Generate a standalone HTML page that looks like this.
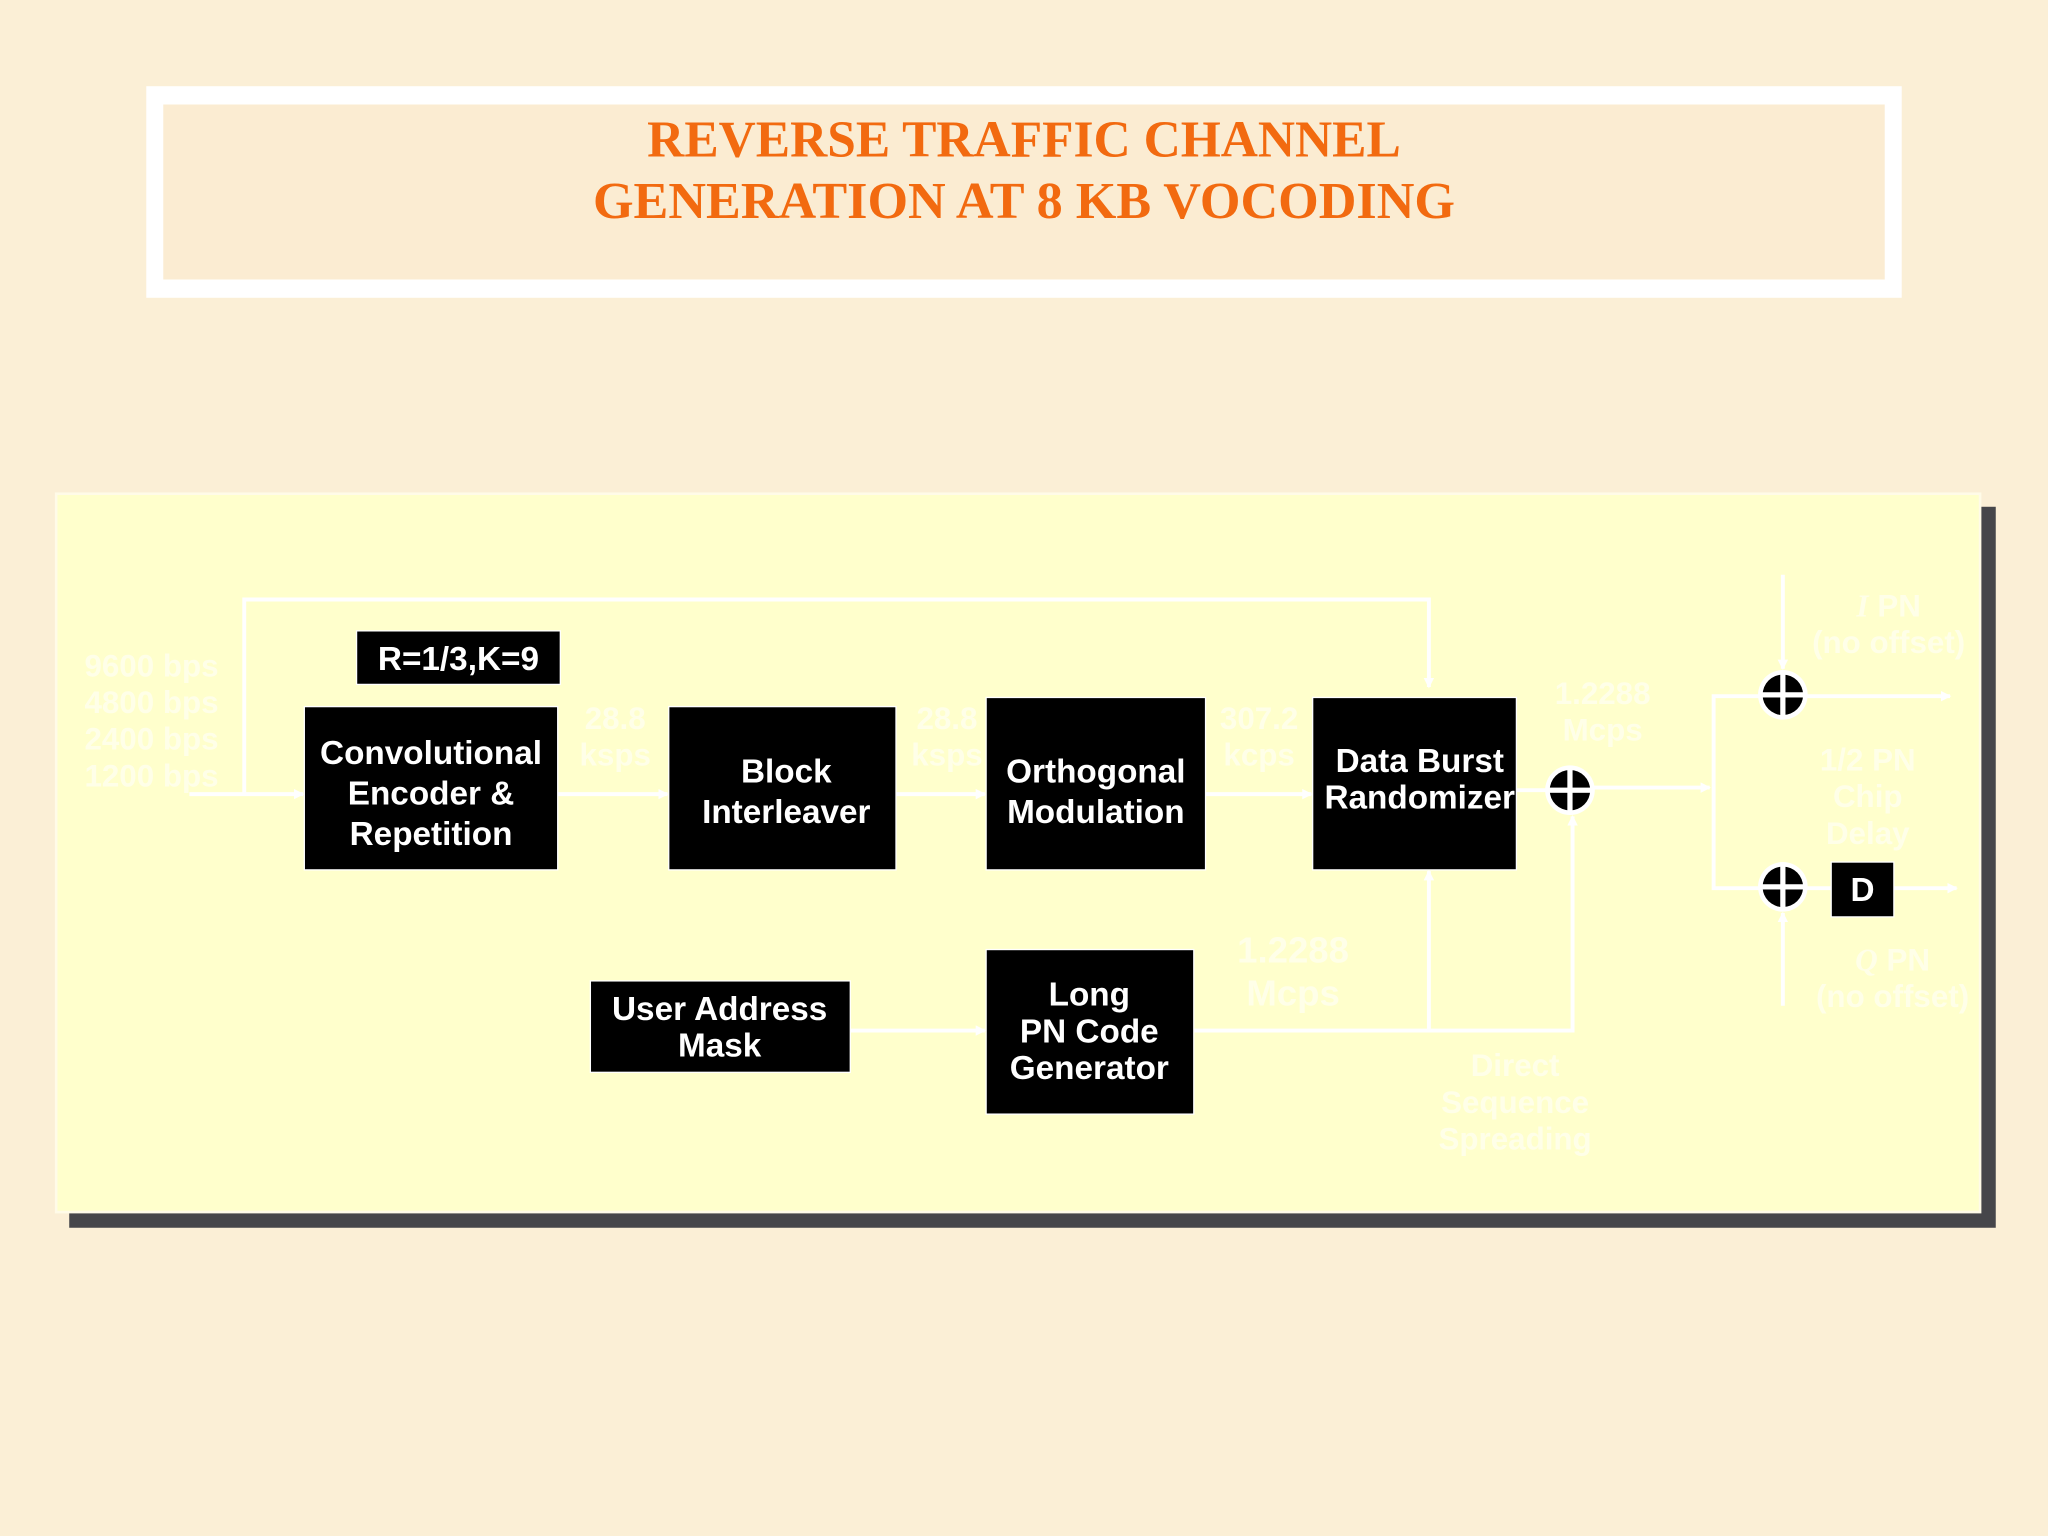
<!DOCTYPE html>
<html><head><meta charset="utf-8"><style>
html,body{margin:0;padding:0;background:#fbefd6;}
svg{display:block}
</style></head><body>
<svg width="2048" height="1536" viewBox="0 0 1568 1176" xmlns="http://www.w3.org/2000/svg">
<defs>
<marker id="a" markerWidth="8" markerHeight="8" refX="7" refY="4" orient="auto" markerUnits="userSpaceOnUse">
<path d="M0,0 L8,4 L0,8 z" fill="#fff"/></marker>
<g id="x"><circle r="19" fill="#fff"/><circle r="15.5" fill="#000"/><rect x="-2" y="-16" width="4" height="32" fill="#fff"/><rect x="-16" y="-2" width="32" height="4" fill="#fff"/></g>
</defs>
<rect width="1568" height="1176" fill="#fbefd6"/>
<rect x="112" y="66" width="1344" height="162" fill="#fff"/>
<rect x="125" y="80" width="1318" height="134" fill="#fbecd2"/>
<g font-family="Liberation Serif, serif" font-weight="bold" fill="#f26a10" font-size="40" text-anchor="middle">
<text x="784" y="120" textLength="577" lengthAdjust="spacingAndGlyphs">REVERSE TRAFFIC CHANNEL</text>
<text x="784" y="167" textLength="660" lengthAdjust="spacingAndGlyphs">GENERATION AT 8 KB VOCODING</text>
</g>
<rect x="53" y="388" width="1475" height="552" fill="#46464a"/>
<rect x="43" y="378" width="1473" height="550" fill="#ffffcc" stroke="#fffbe8" stroke-width="2"/>
<g stroke="#fff" stroke-width="3" fill="none">
<line x1="145" y1="608" x2="232" y2="608" marker-end="url(#a)"/>
<polyline points="187,608 187,459 1094,459 1094,526" marker-end="url(#a)"/>
<line x1="427" y1="608" x2="511" y2="608" marker-end="url(#a)"/>
<line x1="686" y1="608" x2="754" y2="608" marker-end="url(#a)"/>
<line x1="923" y1="608" x2="1004" y2="608" marker-end="url(#a)"/>
<line x1="1161" y1="605" x2="1185" y2="605"/>
<line x1="1219" y1="603" x2="1309" y2="603" marker-end="url(#a)"/>
<polyline points="1348,533 1312,533 1312,680 1348,680"/>
<line x1="1382" y1="533" x2="1493" y2="533" marker-end="url(#a)"/>
<line x1="1382" y1="680" x2="1402" y2="680"/>
<line x1="1450" y1="680" x2="1498" y2="680" marker-end="url(#a)"/>
<line x1="1365" y1="440" x2="1365" y2="512" marker-end="url(#a)"/>
<line x1="1365" y1="770" x2="1365" y2="699" marker-end="url(#a)"/>
<line x1="651" y1="789" x2="754" y2="789" marker-end="url(#a)"/>
<polyline points="914,789 1204,789 1204,625" marker-end="url(#a)"/>
<line x1="1094" y1="789" x2="1094" y2="667" marker-end="url(#a)"/>
</g>
<use href="#x" x="1202" y="605"/>
<use href="#x" x="1365" y="532"/>
<use href="#x" x="1365" y="679"/>
<g fill="#000" stroke="#fff" stroke-width="1">
<rect x="273" y="483" width="156" height="41"/>
<rect x="233" y="541" width="194" height="125"/>
<rect x="512" y="541" width="174" height="125"/>
<rect x="755" y="534" width="168" height="132"/>
<rect x="1005" y="534" width="156" height="132"/>
<rect x="452" y="751" width="199" height="70"/>
<rect x="755" y="727" width="159" height="126"/>
<rect x="1402" y="660" width="48" height="42"/>
</g>
<g font-family="Liberation Sans, sans-serif" font-weight="bold" fill="#fff" font-size="25.5" text-anchor="middle">
<text x="351" y="513">R=1/3,K=9</text>
<text x="330" y="585">Convolutional</text><text x="330" y="616">Encoder &amp;</text><text x="330" y="647">Repetition</text>
<text x="602" y="599">Block</text><text x="602" y="630">Interleaver</text>
<text x="839" y="599">Orthogonal</text><text x="839" y="630">Modulation</text>
<text x="1087" y="591">Data Burst</text><text x="1087" y="619">Randomizer</text>
<text x="551" y="781">User Address</text><text x="551" y="809">Mask</text>
<text x="834" y="770">Long</text><text x="834" y="798">PN Code</text><text x="834" y="826">Generator</text>
<text x="1426" y="690">D</text>
</g>
<g font-family="Liberation Sans, sans-serif" font-weight="bold" fill="#ffffff" fill-opacity="0.55" font-size="24" text-anchor="middle">
<text x="116" y="518">9600 bps</text><text x="116" y="546">4800 bps</text><text x="116" y="574">2400 bps</text><text x="116" y="602">1200 bps</text>
<text x="471" y="558">28.8</text><text x="471" y="586">ksps</text>
<text x="725" y="558">28.8</text><text x="725" y="586">ksps</text>
<text x="964" y="558">307.2</text><text x="964" y="586">kcps</text>
<text x="1227" y="539">1.2288</text><text x="1227" y="567">Mcps</text>
<text x="1446" y="472"><tspan font-family="Liberation Serif, serif" font-style="italic">I</tspan> PN</text><text x="1446" y="500">(no offset)</text>
<text x="1430" y="590">1/2 PN</text><text x="1430" y="618">Chip</text><text x="1430" y="646">Delay</text>
<text x="1449" y="743"><tspan font-family="Liberation Serif, serif" font-style="italic">Q</tspan> PN</text><text x="1449" y="771">(no offset)</text>
<text x="990" y="737" font-size="28">1.2288</text><text x="990" y="770" font-size="28">Mcps</text>
<text x="1160" y="824">Direct</text><text x="1160" y="852">Sequence</text><text x="1160" y="880">Spreading</text>
</g>
</svg>
</body></html>
